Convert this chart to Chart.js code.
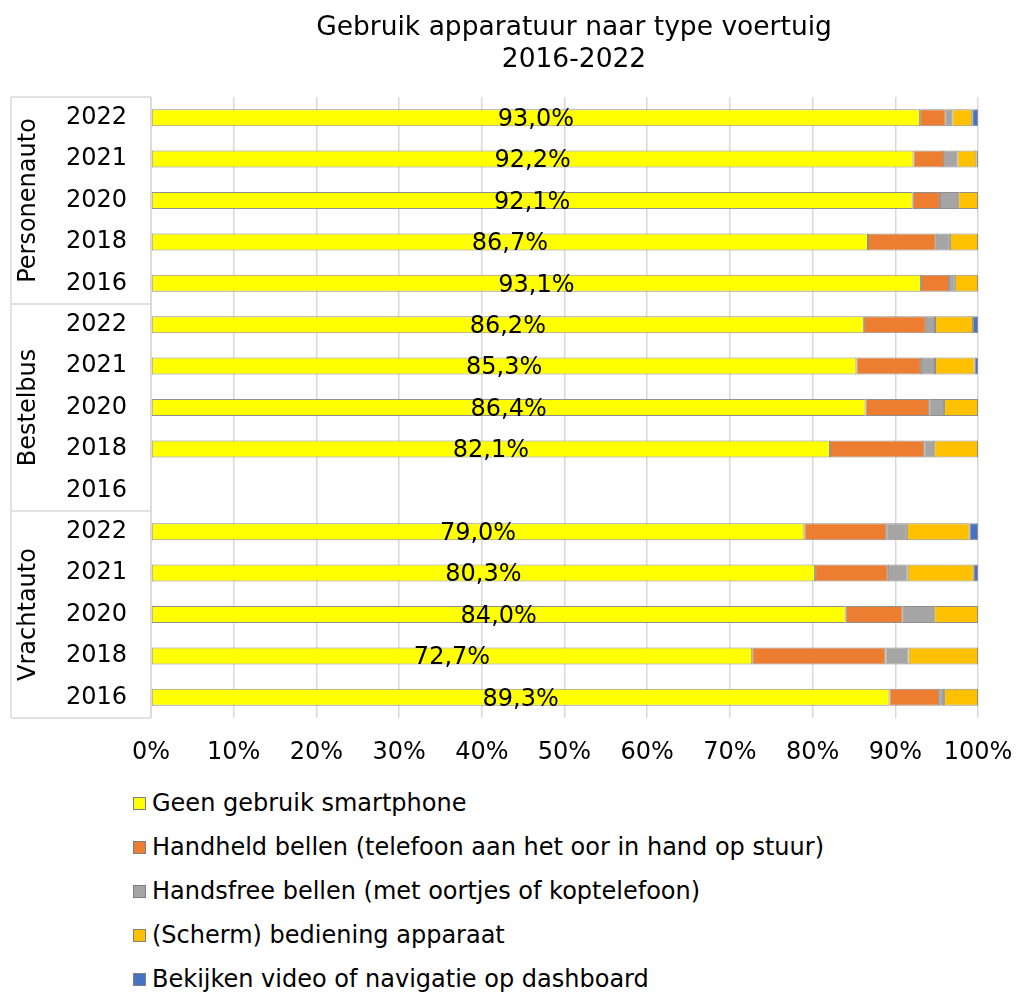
<!DOCTYPE html>
<html>
<head>
<meta charset="utf-8">
<script src="https://cdn.jsdelivr.net/npm/chart.js@4"></script>
<style>
  html, body { margin: 0; padding: 0; background: #fff; }
  #wrap { position: relative; width: 1016px; height: 775px; }
  #legend { position: absolute; left: 0; top: 781px; width: 1016px; font-family: "DejaVu Sans", Verdana, sans-serif; font-size: 24px; color: #000; }
  .item { position: absolute; left: 133px; height: 44px; display: flex; align-items: center; white-space: nowrap; }
  .box { width: 11px; height: 11px; border: 1px solid #7f7f7f; margin-right: 6px; }
</style>
</head>
<body>
<div id="wrap"><canvas id="c" width="1016" height="775"></canvas></div>
<div id="legend"></div>
<script>
const titleLines = ['Gebruik apparatuur naar type voertuig', '2016-2022'];
const years = ['2022','2021','2020','2018','2016','2022','2021','2020','2018','2016','2022','2021','2020','2018','2016'];
const groups = ['Personenauto','Bestelbus','Vrachtauto'];
const groupSize = 5;
const seriesNames = ['Geen gebruik smartphone','Handheld bellen (telefoon aan het oor in hand op stuur)','Handsfree bellen (met oortjes of koptelefoon)','(Scherm) bediening apparaat','Bekijken video of navigatie op dashboard'];
const seriesColors = ['#ffff00','#ed7d31','#a5a5a5','#ffc000','#4472c4'];
const geen      = [93.0, 92.2, 92.1, 86.7, 93.1, 86.2, 85.3, 86.4, 82.1, null, 79.0, 80.3, 84.0, 72.7, 89.3];
const handheld  = [3.1, 3.7, 3.3, 8.2, 3.4, 7.5, 7.8, 7.7, 11.4, null, 9.9, 8.8, 6.9, 16.1, 6.0];
const handsfree = [0.8, 1.6, 2.2, 1.7, 0.7, 1.1, 1.7, 1.8, 1.2, null, 2.5, 2.4, 3.8, 2.8, 0.6];
const scherm    = [2.4, 2.3, 2.4, 3.4, 2.8, 4.6, 4.8, 4.1, 5.3, null, 7.6, 8.0, 5.3, 8.4, 4.1];
const video     = [0.7, 0.2, null, null, null, 0.6, 0.4, null, null, null, 1.0, 0.5, null, null, null];
const xTicks = [0,10,20,30,40,50,60,70,80,90,100];

const FONT = '"DejaVu Sans", Verdana, sans-serif';
const allSeries = [geen, handheld, handsfree, scherm, video];

const datasets = allSeries.map((d, i) => ({
  label: seriesNames[i],
  data: d,
  backgroundColor: seriesColors[i],
  borderColor: '#8f8f8f',
  borderWidth: 1,
  borderSkipped: false,
  barPercentage: 0.41,
  categoryPercentage: 1.0
}));

const decorPlugin = {
  id: 'decor',
  afterDatasetsDraw(chart) {
    const ctx = chart.ctx;
    const meta = chart.getDatasetMeta(0);
    ctx.save();
    ctx.font = '24px ' + FONT;
    ctx.fillStyle = '#000';
    ctx.textAlign = 'center';
    ctx.textBaseline = 'middle';
    meta.data.forEach((el, i) => {
      const v = geen[i];
      if (v == null) return;
      const cx = (el.x + el.base) / 2;
      ctx.fillText(v.toFixed(1).replace('.', ',') + '%', cx, el.y + 2);
    });
    ctx.restore();
  },
  afterDraw(chart) {
    const ctx = chart.ctx;
    const ys = chart.scales.y;
    const area = chart.chartArea;
    const n = years.length;
    const step = (area.bottom - area.top) / n;
    ctx.save();
    // title
    ctx.font = '26.5px ' + FONT;
    ctx.fillStyle = '#000';
    ctx.textAlign = 'center';
    ctx.textBaseline = 'middle';
    ctx.fillText(titleLines[0], 574, 28);
    ctx.fillText(titleLines[1], 574, 60);
    // category boxes
    ctx.strokeStyle = '#d9d9d9';
    ctx.lineWidth = 1.5;
    const leftX = 11;
    ctx.beginPath();
    for (let g = 0; g <= groups.length; g++) {
      const y = area.top + g * groupSize * step;
      ctx.moveTo(leftX, y);
      ctx.lineTo(area.left, y);
    }
    ctx.moveTo(leftX, area.top);
    ctx.lineTo(leftX, area.bottom);
    ctx.moveTo(area.left, area.top);
    ctx.lineTo(area.left, area.bottom);
    ctx.stroke();
    ctx.font = '24px ' + FONT;
    groups.forEach((name, g) => {
      const y0 = ys.getPixelForValue(g * groupSize);
      const y1 = ys.getPixelForValue(g * groupSize + groupSize - 1);
      const cy = (y0 + y1) / 2;
      ctx.save();
      ctx.translate(29, cy);
      ctx.rotate(-Math.PI / 2);
      ctx.fillText(name, 0, 0);
      ctx.restore();
    });
    ctx.restore();
  }
};

new Chart(document.getElementById('c'), {
  type: 'bar',
  data: { labels: years, datasets },
  options: {
    indexAxis: 'y',
    responsive: false,
    animation: false,
    layout: { padding: { left: 0, right: 38, top: 97, bottom: 0 } },
    plugins: {
      legend: { display: false },
      tooltip: { enabled: false },
      title: { display: false }
    },
    scales: {
      x: {
        stacked: true,
        min: 0, max: 100,
        afterBuildTicks(s) { s.ticks = xTicks.map(v => ({ value: v })); },
        afterFit(s) { s.height = 57; s.paddingLeft = 0; s.paddingRight = 0; },
        grid: { color: '#d9d9d9', lineWidth: 1.5, drawTicks: false },
        border: { display: false },
        ticks: {
          padding: 20,
          color: '#000',
          font: { family: FONT, size: 24 },
          callback: v => v + '%'
        }
      },
      y: {
        stacked: true,
        afterFit(s) { s.width = 151; s.paddingTop = 0; s.paddingBottom = 0; },
        grid: { display: false, drawTicks: false },
        border: { display: false },
        ticks: {
          padding: 24,
          color: '#000',
          font: { family: FONT, size: 24 },
          autoSkip: false
        }
      }
    }
  },
  plugins: [decorPlugin]
});

const legend = document.getElementById('legend');
seriesNames.forEach((name, i) => {
  const it = document.createElement('div');
  it.className = 'item';
  it.style.top = (i * 44) + 'px';
  const b = document.createElement('span');
  b.className = 'box';
  b.style.background = seriesColors[i];
  const t = document.createElement('span');
  t.textContent = name;
  it.appendChild(b);
  it.appendChild(t);
  legend.appendChild(it);
});
</script>
</body>
</html>
